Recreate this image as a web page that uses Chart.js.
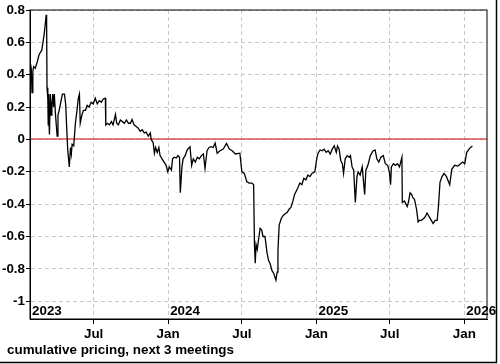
<!DOCTYPE html>
<html>
<head>
<meta charset="utf-8">
<script src="https://cdn.jsdelivr.net/npm/chart.js@4/dist/chart.umd.min.js"></script>
<style>
  html, body { margin: 0; padding: 0; background: #fff; }
</style>
</head>
<body>
<canvas id="chart" width="500" height="364"></canvas>
<script>
// day numbers counted from 1 Jan 2023
const days = [25,27,29,31,33,37,42,46,50,53,56,59,64,65,66,68,69,70,71,72,74,76,78,80,82,84,87,91,93,96,100,104,109,112,115,117,121,124,126,128,132,136,140,143,146,148,152,156,161,165,170,175,180,185,190,195,200,205,210,211,215,220,225,229,235,238,242,247,252,257,262,267,272,276,281,286,291,296,301,306,311,316,321,323,328,331,334,338,342,345,350,355,360,364,368,373,376,380,385,389,393,395,399,402,407,412,419,423,427,432,437,442,447,452,456,461,466,471,476,481,486,493,501,509,516,523,531,542,547,553,559,565,572,576,578,580,582,585,588,592,596,599,604,609,613,617,621,626,631,634,636,639,644,649,654,659,664,668,673,677,681,685,690,695,700,705,710,715,720,727,732,735,740,745,750,755,760,765,770,775,780,783,787,791,795,798,802,807,812,815,819,823,827,831,834,839,844,850,853,858,864,871,876,880,885,890,896,901,907,911,914,916,921,926,931,936,942,943,948,955,958,962,966,969,973,978,982,985,990,995,999,1004,1012,1019,1024,1029,1032,1036,1041,1046,1052,1060,1065,1072,1080,1087,1092,1097,1102,1109,1116];
const values = [0.47,0.44,0.29,0.42,0.45,0.44,0.48,0.52,0.54,0.55,0.60,0.65,0.77,0.72,0.32,0.25,0.09,0.28,0.10,0.03,0.28,0.15,0.22,0.28,0.20,0.28,0.15,0.02,0.15,0.18,0.23,0.28,0.28,0.22,0.05,-0.06,-0.17,-0.05,-0.09,-0.03,-0.04,0.10,0.18,0.25,0.28,0.10,0.15,0.18,0.18,0.21,0.20,0.23,0.22,0.255,0.22,0.24,0.23,0.25,0.255,0.09,0.10,0.09,0.11,0.09,0.155,0.10,0.09,0.12,0.11,0.10,0.12,0.10,0.10,0.123,0.09,0.08,0.07,0.05,0.06,0.04,0.045,0.02,0.04,0.00,-0.02,-0.085,-0.05,-0.08,-0.05,-0.10,-0.12,-0.14,-0.16,-0.20,-0.17,-0.19,-0.12,-0.11,-0.115,-0.10,-0.11,-0.33,-0.17,-0.12,-0.10,-0.065,-0.045,-0.16,-0.12,-0.14,-0.11,-0.12,-0.10,-0.09,-0.18,-0.07,-0.05,-0.045,-0.05,-0.023,-0.085,-0.07,-0.06,-0.025,-0.06,-0.07,-0.09,-0.085,-0.20,-0.21,-0.26,-0.27,-0.27,-0.28,-0.65,-0.765,-0.65,-0.68,-0.62,-0.55,-0.56,-0.60,-0.60,-0.70,-0.75,-0.77,-0.81,-0.83,-0.87,-0.82,-0.69,-0.53,-0.49,-0.47,-0.46,-0.45,-0.43,-0.42,-0.38,-0.34,-0.32,-0.30,-0.27,-0.28,-0.24,-0.25,-0.22,-0.23,-0.21,-0.20,-0.115,-0.085,-0.065,-0.07,-0.06,-0.08,-0.07,-0.09,-0.06,-0.04,-0.08,-0.04,-0.06,-0.13,-0.15,-0.21,-0.12,-0.10,-0.11,-0.10,-0.17,-0.19,-0.39,-0.23,-0.20,-0.22,-0.17,-0.34,-0.19,-0.16,-0.10,-0.07,-0.066,-0.12,-0.14,-0.11,-0.10,-0.15,-0.16,-0.20,-0.28,-0.17,-0.15,-0.16,-0.15,-0.17,-0.11,-0.39,-0.38,-0.415,-0.39,-0.33,-0.34,-0.36,-0.37,-0.43,-0.51,-0.50,-0.50,-0.49,-0.48,-0.455,-0.49,-0.52,-0.50,-0.50,-0.42,-0.265,-0.23,-0.21,-0.23,-0.28,-0.185,-0.16,-0.165,-0.15,-0.14,-0.15,-0.08,-0.055,-0.04];

// tick positions (Jul / Jan) and labels
const xTickDays = [181, 365, 547, 731, 912, 1096];
const xTickLabels = ['Jul', 'Jan', 'Jul', 'Jan', 'Jul', 'Jan'];
const yearDays = [24, 365, 731, 1096];
const yearLabels = ['2023', '2024', '2025', '2026'];
const yTicks = [-1, -0.8, -0.6, -0.4, -0.2, 0, 0.2, 0.4, 0.6, 0.8];
const zeroLine = 0;
const caption = 'cumulative pricing, next 3 meetings';

const FONT = { family: '"Liberation Sans", Arial, sans-serif', size: 13.4, weight: 'bold' };
const fontStr = 'bold 13.4px "Liberation Sans", Arial, sans-serif';

// red zero line, under the data
const zeroPlugin = {
  id: 'zero',
  beforeDatasetsDraw(chart) {
    const ctx = chart.ctx;
    const a = chart.chartArea;
    const y = chart.scales.y.getPixelForValue(zeroLine);
    ctx.save();
    ctx.fillStyle = '#d42a2a';
    ctx.fillRect(a.left, Math.round(y) - 0.6, a.right - a.left, 1.2);
    ctx.restore();
  }
};

// box round the plot, year labels, caption, outer frame
const extras = {
  id: 'extras',
  afterDraw(chart) {
    const ctx = chart.ctx;
    const a = chart.chartArea;
    const xs = chart.scales.x;
    ctx.save();
    ctx.strokeStyle = '#000';
    ctx.lineWidth = 1;
    ctx.strokeRect(a.left, a.top, a.right - a.left, a.bottom - a.top);

    ctx.fillStyle = '#000';
    ctx.font = fontStr;
    ctx.textAlign = 'left';
    ctx.textBaseline = 'alphabetic';
    yearLabels.forEach((lab, i) => {
      ctx.fillText(lab, xs.getPixelForValue(yearDays[i]) + 2, a.bottom - 4);
    });

    ctx.textBaseline = 'middle';
    ctx.fillText(caption, 7, 350);

    // frame on right and bottom of the picture
    ctx.lineWidth = 1.5;
    ctx.beginPath();
    ctx.moveTo(496.5, 0);
    ctx.lineTo(496.5, 362.5);
    ctx.lineTo(0, 362.5);
    ctx.stroke();
    ctx.restore();
  }
};

const context2d = document.getElementById('chart').getContext('2d');

new Chart(context2d, {
  type: 'line',
  data: {
    datasets: [{
      data: days.map((d, i) => ({ x: d, y: values[i] })),
      borderColor: '#000',
      borderWidth: 1.3,
      pointRadius: 0,
      tension: 0,
      fill: false
    }]
  },
  options: {
    responsive: false,
    animation: false,
    layout: { padding: { top: 10, right: 13, left: 0, bottom: 0 } },
    plugins: { legend: { display: false }, tooltip: { enabled: false } },
    scales: {
      x: {
        type: 'linear',
        min: 24,
        max: 1152,
        afterBuildTicks: (s) => { s.ticks = xTickDays.map(v => ({ value: v })); },
        afterFit: (s) => { s.height = 45; },
        ticks: {
          autoSkip: false,
          maxRotation: 0,
          padding: 2,
          color: '#000',
          font: FONT,
          callback: (v) => xTickLabels[xTickDays.indexOf(v)]
        },
        grid: { color: '#c8c8c8', lineWidth: 1, tickColor: '#000', tickLength: 5, tickBorderDash: [] },
        border: { color: '#000', width: 1, dash: [4, 3] }
      },
      y: {
        min: -1.11,
        max: 0.8,
        afterBuildTicks: (s) => { s.ticks = yTicks.map(v => ({ value: v })); },
        afterFit: (s) => { s.width = 30; },
        ticks: {
          padding: 1,
          color: '#000',
          font: FONT,
          callback: (v) => String(Math.round(v * 10) / 10)
        },
        grid: {
          color: '#c8c8c8',
          lineWidth: 1,
          tickColor: '#000',
          tickLength: 4,
          tickBorderDash: []
        },
        border: { color: '#000', width: 1, dash: [4, 3] }
      }
    }
  },
  plugins: [zeroPlugin, extras]
});
</script>
</body>
</html>
